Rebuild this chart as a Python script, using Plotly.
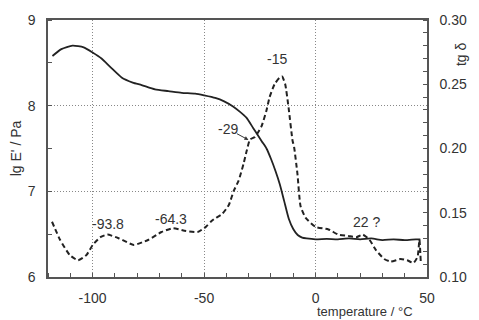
import plotly.graph_objects as go

# storage modulus lg E' (left axis)
t_e = [-118, -114, -109, -104, -100, -96, -92, -87, -82, -78, -72, -66, -60, -54, -50,
       -45, -41, -37, -34, -31, -28, -26, -24, -22, -20, -18, -16, -14, -12, -10, -8,
       -6, -4, 0, 5, 10, 15, 20, 25, 30, 35, 40, 45, 47]
lg_e = [8.58, 8.66, 8.70, 8.68, 8.62, 8.55, 8.45, 8.33, 8.27, 8.24, 8.19, 8.17, 8.15, 8.14, 8.12,
        8.09, 8.05, 7.99, 7.93, 7.86, 7.74, 7.66, 7.58, 7.50, 7.38, 7.24, 7.08, 6.88, 6.68, 6.56, 6.49,
        6.46, 6.45, 6.44, 6.445, 6.44, 6.45, 6.44, 6.45, 6.43, 6.44, 6.43, 6.44, 6.44]

# loss factor tg delta (right axis)
t_d = [-118.2, -114.6, -110.2, -106.5, -102.8, -99.9, -96.5, -93.3, -88.1, -81.5, -74.9, -69.1,
       -63.9, -58.8, -52.9, -49.2, -47, -45.6, -41.9, -38.9, -36.7, -34.5, -32.3, -30.9, -29.4,
       -27.2, -24.3, -22.1, -20.6, -18.4, -16.2, -15, -13.6, -12.1, -10.3, -9.6, -8.1, -6.7,
       -4.4, 0, 5.8, 10.2, 14.6, 18.3, 21.2, 24.2, 27.1, 30.8, 33.7, 38.2, 41.1, 44, 45.8, 46.6, 47.2]
tg_d = [0.143, 0.129, 0.117, 0.113, 0.117, 0.125, 0.131, 0.133, 0.130, 0.125, 0.129, 0.135,
        0.138, 0.136, 0.135, 0.139, 0.143, 0.145, 0.149, 0.156, 0.167, 0.175, 0.188, 0.198, 0.207,
        0.209, 0.217, 0.229, 0.240, 0.250, 0.255, 0.256, 0.250, 0.232, 0.206, 0.201, 0.180, 0.155,
        0.146, 0.139, 0.137, 0.133, 0.132, 0.131, 0.133, 0.129, 0.121, 0.114, 0.112, 0.114, 0.113, 0.111, 0.116, 0.129, 0.112]

x_ticks = [-100, -50, 0, 50]
x_tick_text = ["-100", "-50", "0", "50"]
y_ticks = [6, 7, 8, 9]
y2_ticks = [0.10, 0.15, 0.20, 0.25, 0.30]
y2_tick_text = ["0.10", "0.15", "0.20", "0.25", "0.30"]

font = dict(family="Liberation Sans, Arial, sans-serif", size=14, color="#333")
line_col = "#222"
grid_col = "#888"

fig = go.Figure()
fig.add_trace(go.Scatter(x=t_e, y=lg_e, mode="lines", line=dict(color=line_col, width=1.8, shape="spline", smoothing=0.6),
                         showlegend=False))
fig.add_trace(go.Scatter(x=t_d, y=tg_d, mode="lines", yaxis="y2",
                         line=dict(color=line_col, width=2, dash="5px,3px", shape="spline", smoothing=0.5),
                         showlegend=False))

fig.update_layout(
    width=479, height=320,
    margin=dict(l=48, r=46, t=19, b=43),
    paper_bgcolor="white", plot_bgcolor="white",
    font=font,
    xaxis=dict(range=[-120, 50], tickvals=x_ticks, ticktext=x_tick_text, showline=True, linecolor="#555",
               linewidth=1.5, mirror=True, ticks="", showgrid=True, gridcolor=grid_col, griddash="1px,2px",
               gridwidth=1, zeroline=False, ticklabelstandoff=7,
               minor=dict(dtick=10, ticks="inside", ticklen=4, tickcolor="#555", showgrid=False)),
    yaxis=dict(range=[6, 9], tickvals=y_ticks, showline=True, linecolor="#555", linewidth=1.5,
               ticks="", showgrid=True, gridcolor=grid_col, griddash="1px,2px", gridwidth=1, zeroline=False,
               ticklabelstandoff=8,
               minor=dict(dtick=0.5, ticks="inside", ticklen=4, tickcolor="#555", showgrid=False)),
    yaxis2=dict(range=[0.10, 0.30], overlaying="y", side="right", tickvals=y2_ticks, ticktext=y2_tick_text,
                showline=True, linecolor="#555", linewidth=1.5, ticks="", showgrid=False, zeroline=False,
                ticklabelstandoff=8,
                minor=dict(dtick=0.01, ticks="inside", ticklen=4, tickcolor="#555", showgrid=False)),
)

ann = [
    dict(text="-15", x=-17.2, y=0.270, xref="x", yref="y2", showarrow=False),
    dict(text="-29", x=-39.1, y=0.215, xref="x", yref="y2", showarrow=False),
    dict(text="", x=-30.1, y=0.2067, xref="x", yref="y2", showarrow=True, ax=-13, ay=-7,
         arrowhead=2, arrowsize=0.8, arrowwidth=1, arrowcolor="#333"),
    dict(text="-93.8", x=-93.3, y=0.141, xref="x", yref="y2", showarrow=False),
    dict(text="-64.3", x=-64.7, y=0.145, xref="x", yref="y2", showarrow=False),
    dict(text="22 ?", x=22.7, y=0.143, xref="x", yref="y2", showarrow=False),
    dict(text="lg E' / Pa", x=-0.085, y=0.5, xref="paper", yref="paper", textangle=-90,
         showarrow=False, xanchor="center", yanchor="middle"),
    dict(text="tg δ", x=1.09, y=0.868, xref="paper", yref="paper", textangle=-90,
         showarrow=False, xanchor="center", yanchor="middle"),
    dict(text="temperature / °C", x=22, y=-0.135, xref="x", yref="paper", showarrow=False,
         xanchor="center", yanchor="middle", font=dict(size=13)),
]
fig.update_layout(annotations=ann)

fig.write_html("out.html")
